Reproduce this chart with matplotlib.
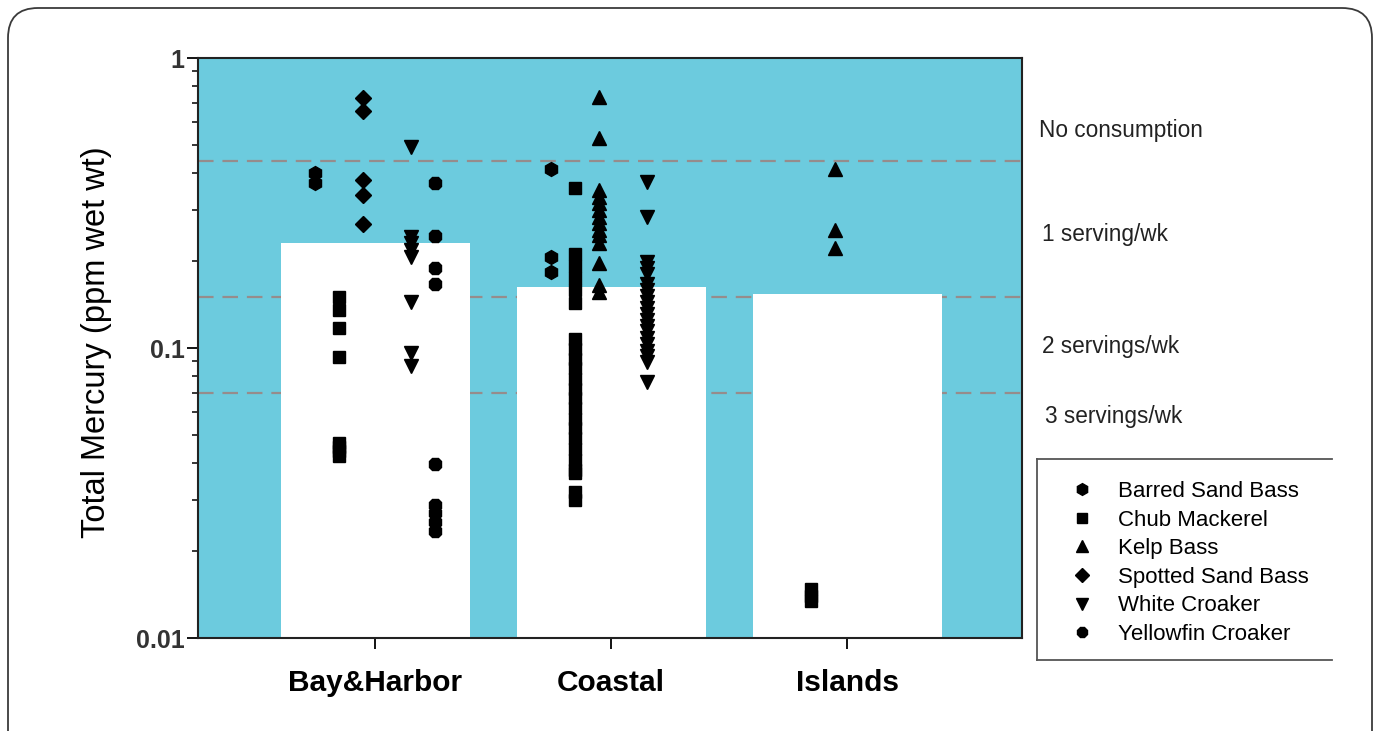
import matplotlib.pyplot as plt
from matplotlib.patches import FancyBboxPatch
from matplotlib.lines import Line2D
from matplotlib.ticker import FixedLocator, FixedFormatter, LogLocator, NullFormatter

plt.rcParams['font.family'] = ['Liberation Sans', 'DejaVu Sans']

W, H = 1377, 731

# --- data ---
regions = ['Bay&Harbor', 'Coastal', 'Islands']
region_means = [0.23, 0.162, 0.154]

advisory_levels = [0.44, 0.15, 0.07]
advisory_labels = ['No consumption', '1 serving/wk', '2 servings/wk', '3 servings/wk']

barred_sand_bass = {'Bay&Harbor': [0.40, 0.37],
                    'Coastal': [0.414, 0.206, 0.183]}
chub_mackerel = {'Bay&Harbor': [0.150, 0.135, 0.117, 0.093, 0.047, 0.0455, 0.044, 0.0425],
                 'Coastal': [0.356, 0.211, 0.192, 0.174, 0.158, 0.143, 0.107, 0.099, 0.092,
                             0.085, 0.078, 0.072, 0.067, 0.062, 0.057, 0.053, 0.049, 0.045,
                             0.041, 0.038, 0.037, 0.032, 0.030],
                 'Islands': [0.0148, 0.0140, 0.0134]}
kelp_bass = {'Coastal': [0.734, 0.530, 0.351, 0.332, 0.316, 0.299, 0.283, 0.270, 0.255,
                         0.245, 0.230, 0.196, 0.165, 0.156],
             'Islands': [0.414, 0.255, 0.221]}
spotted_sand_bass = {'Bay&Harbor': [0.728, 0.657, 0.380, 0.337, 0.268]}
white_croaker = {'Bay&Harbor': [0.493, 0.241, 0.230, 0.218, 0.206, 0.144, 0.096, 0.087],
                 'Coastal': [0.373, 0.283, 0.198, 0.189, 0.180, 0.166, 0.158, 0.151, 0.144,
                             0.137, 0.131, 0.125, 0.119, 0.114, 0.108, 0.103, 0.098, 0.094,
                             0.0895, 0.0763]}
yellowfin_croaker = {'Bay&Harbor': [0.371, 0.243, 0.189, 0.166, 0.0398, 0.0288, 0.0270,
                                    0.0251, 0.0234]}

species = [
    ('Barred Sand Bass', barred_sand_bass, 'h', 10, -0.254),
    ('Chub Mackerel', chub_mackerel, 's', 9, -0.153),
    ('Kelp Bass', kelp_bass, '^', 10, -0.05),
    ('Spotted Sand Bass', spotted_sand_bass, 'D', 8, -0.05),
    ('White Croaker', white_croaker, 'v', 10, 0.153),
    ('Yellowfin Croaker', yellowfin_croaker, '8', 10, 0.254),
]

fig = plt.figure(figsize=(W / 100, H / 100), dpi=100)
ax = fig.add_axes([198 / W, 1 - 638 / H, (1022 - 198) / W, (638 - 58) / H])
ax.set_facecolor('#6ccbde')
ax.set_yscale('log')
ax.set_ylim(0.01, 1)
ax.set_xlim(-0.75, 2.74)

# advisory thresholds (behind the bars)
for lvl in advisory_levels:
    ax.axhline(lvl, color='#968c8c', ls=(0, (7, 4)), lw=1.6, zorder=1)

xpos = list(range(len(regions)))
ax.bar(xpos, region_means, width=0.8, color='white', zorder=2)

handles = []
for name, data, mk, ms, off in species:
    for i, reg in enumerate(regions):
        if reg in data:
            vals = data[reg]
            ax.plot([i + off] * len(vals), vals, ls='none', marker=mk, ms=ms,
                    color='black', mec='black', zorder=3)
    handles.append(Line2D([], [], ls='none', marker=mk, ms=ms * 0.85, color='black'))

# axes styling
for sp in ax.spines.values():
    sp.set_linewidth(1.5)
    sp.set_color('#222222')
ax.yaxis.set_major_locator(FixedLocator([0.01, 0.1, 1]))
ax.yaxis.set_major_formatter(FixedFormatter(['0.01', '0.1', '1']))
ax.yaxis.set_minor_locator(LogLocator(base=10, subs=range(2, 10)))
ax.yaxis.set_minor_formatter(NullFormatter())
ax.tick_params(axis='y', which='major', length=8, width=1.3, pad=1.5, labelsize=18)
ax.tick_params(axis='y', which='minor', length=4, width=1.1)
ax.set_xticks(xpos)
ax.set_xticklabels(regions, fontsize=21.5, fontweight='bold')
ax.tick_params(axis='x', length=8, width=1.3, pad=14)
for lab in ax.get_yticklabels():
    lab.set_fontweight('bold')
    lab.set_color('#333333')

ax.set_ylabel('Total Mercury (ppm wet wt)', fontsize=23.5)
ax.yaxis.set_label_coords(-0.104, 0.51)

# advisory labels on the right
label_y = [130, 235, 347, 417]
label_x = [1039, 1042, 1042, 1045]
for txt, lx, ly in zip(advisory_labels, label_x, label_y):
    fig.text(lx / W, 1 - ly / H, txt, va='center', ha='left', fontsize=16.3, color='#222222')

# legend
fig.legend(handles, [s[0] for s in species], loc='upper left',
           bbox_to_anchor=(1060 / W, 1 - 470 / H), frameon=False, fontsize=16,
           handlelength=1.0, handletextpad=1.1, labelspacing=0.34, borderpad=0)
box_x0, box_x1, box_top, box_bot = 1037, 1332, H - 459, H - 660
for xs, ys in [([box_x0, box_x0], [box_top, box_bot]),
               ([box_x0, box_x1], [box_top, box_top]),
               ([box_x0, box_x1], [box_bot, box_bot])]:
    fig.lines.append(Line2D(xs, ys, transform=None, color='#555555', lw=1.3))

# rounded frame around the whole picture
frame = FancyBboxPatch((8, -30), 1364, H - 8 + 30, boxstyle='round,pad=0,rounding_size=30',
                       transform=None, fill=False, ec='#3a3a3a', lw=1.3)
fig.patches.append(frame)

fig.savefig('out.png', dpi=100)
